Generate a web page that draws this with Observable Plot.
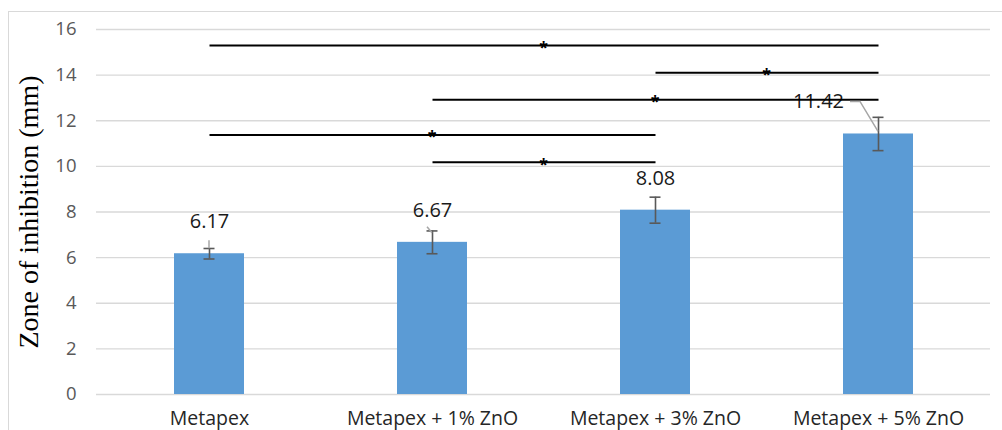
<!DOCTYPE html>
<html><head><meta charset="utf-8">
<script src="https://cdn.jsdelivr.net/npm/d3@7"></script>
<script src="https://cdn.jsdelivr.net/npm/@observablehq/plot@0.6"></script>
<style>
html,body{margin:0;padding:0;background:#fff;}
#wrap{position:relative;width:1002px;height:430px;overflow:hidden;}
#border{position:absolute;left:8px;top:11px;width:1010px;height:440px;border:1px solid #d9d9d9;box-sizing:border-box;}
#chart{position:absolute;left:0;top:0;}
</style></head><body>
<div id="wrap"><div id="border"></div><div id="chart"></div></div>
<script>
// ---- data ----
const categories = ["Metapex", "Metapex + 1% ZnO", "Metapex + 3% ZnO", "Metapex + 5% ZnO"];
const values = [6.17, 6.67, 8.08, 11.42];
const errors = [0.23, 0.5, 0.57, 0.73];
const yTicks = [0, 2, 4, 6, 8, 10, 12, 14, 16];
const sigFrom = ["Metapex", "Metapex + 3% ZnO", "Metapex + 1% ZnO", "Metapex", "Metapex + 1% ZnO"];
const sigTo = ["Metapex + 5% ZnO", "Metapex + 5% ZnO", "Metapex + 5% ZnO", "Metapex + 3% ZnO", "Metapex + 3% ZnO"];
const sigLevel = [15.3, 14.1, 12.92, 11.38, 10.18];
const sigMark = ["*", "*", "*", "*", "*"];
const yTitle = "Zone of inhibition (mm)";

const data = categories.map((c, i) => ({cat: c, value: values[i], err: errors[i], label: values[i].toFixed(2)}));
const sig = sigFrom.map((f, i) => ({from: f, to: sigTo[i], y: sigLevel[i], mark: sigMark[i]}));

const font = "'Open Sans', sans-serif";
const plot = Plot.plot({
  width: 1002, height: 430,
  marginLeft: 96, marginRight: 12, marginTop: 29, marginBottom: 36,
  style: {background: "transparent", fontFamily: font, overflow: "visible"},
  x: {domain: categories, paddingInner: 0.687, paddingOuter: 0.3434, label: null},
  y: {domain: [0, 16], label: null},
  marks: [
    Plot.gridY(yTicks, {stroke: "#d9d9d9", strokeOpacity: 1, strokeWidth: 1.4}),
    Plot.axisY(yTicks, {tickSize: 0, tickPadding: 20, fontSize: 18.5, fill: "#595959", label: null}),
    Plot.axisX({tickSize: 0, tickPadding: 17, fontSize: 19.5, fill: "#262626", label: null}),
    Plot.barY(data, {x: "cat", y: "value", fill: "#5b9bd5"}),
    Plot.ruleX(data, {x: "cat", y1: d => d.value - d.err, y2: d => d.value + d.err, stroke: "#595959", strokeWidth: 1.6}),
    Plot.tickY(data, {x: "cat", y: d => d.value - d.err, stroke: "#595959", strokeWidth: 1.6, insetLeft: 29.5, insetRight: 29.5}),
    Plot.tickY(data, {x: "cat", y: d => d.value + d.err, stroke: "#595959", strokeWidth: 1.6, insetLeft: 29.5, insetRight: 29.5}),
    Plot.text(data, {filter: (d, i) => i < 3, x: "cat", y: "value", text: "label", dy: -32, fontSize: 20, fill: "#1a1a1a"}),
    Plot.text(data, {filter: (d, i) => i === 3, x: "cat", y: "value", text: "label", dx: -60, dy: -32, fontSize: 20, fill: "#1a1a1a"}),
    Plot.link(sig, {x1: "from", x2: "to", y1: "y", y2: "y", stroke: "#000", strokeWidth: 2}),
    Plot.text([yTitle], {text: d => d, frameAnchor: "left", textAnchor: "middle", dx: -67, rotate: -90, fontSize: 28, fontFamily: "'Liberation Serif', serif", fill: "#000"})
  ]
});
document.getElementById("chart").appendChild(plot);

// stars and label leader lines, positioned through the plot's own scales
const xs = plot.scale("x"), ys = plot.scale("y");
const cx = c => xs.apply(c) + xs.bandwidth / 2;
const svg = d3.select(plot);
const g = svg.append("g");
g.selectAll("text").data(sig).join("text")
  .attr("x", d => (cx(d.from) + cx(d.to)) / 2)
  .attr("y", d => ys.apply(d.y) + 8)
  .attr("text-anchor", "middle")
  .attr("font-family", font)
  .attr("font-weight", "bold")
  .attr("font-size", 16)
  .attr("fill", "#000")
  .text(d => d.mark);

const lead = d3.line();
const barTop = i => ys.apply(values[i]);
const leaders = [
  [[cx(categories[0]), barTop(0) - 13], [cx(categories[0]), barTop(0) - 5]],
  [[cx(categories[1]) - 5, barTop(1) - 15], [cx(categories[1]), barTop(1) - 9]],
  [[cx(categories[3]) - 28, barTop(3) - 32], [cx(categories[3]) - 18, barTop(3) - 32], [cx(categories[3]), barTop(3) - 2]]
];
g.selectAll("path").data(leaders).join("path")
  .attr("d", d => lead(d))
  .attr("fill", "none")
  .attr("stroke", "#a6a6a6")
  .attr("stroke-width", 1.5);
</script>
</body></html>
